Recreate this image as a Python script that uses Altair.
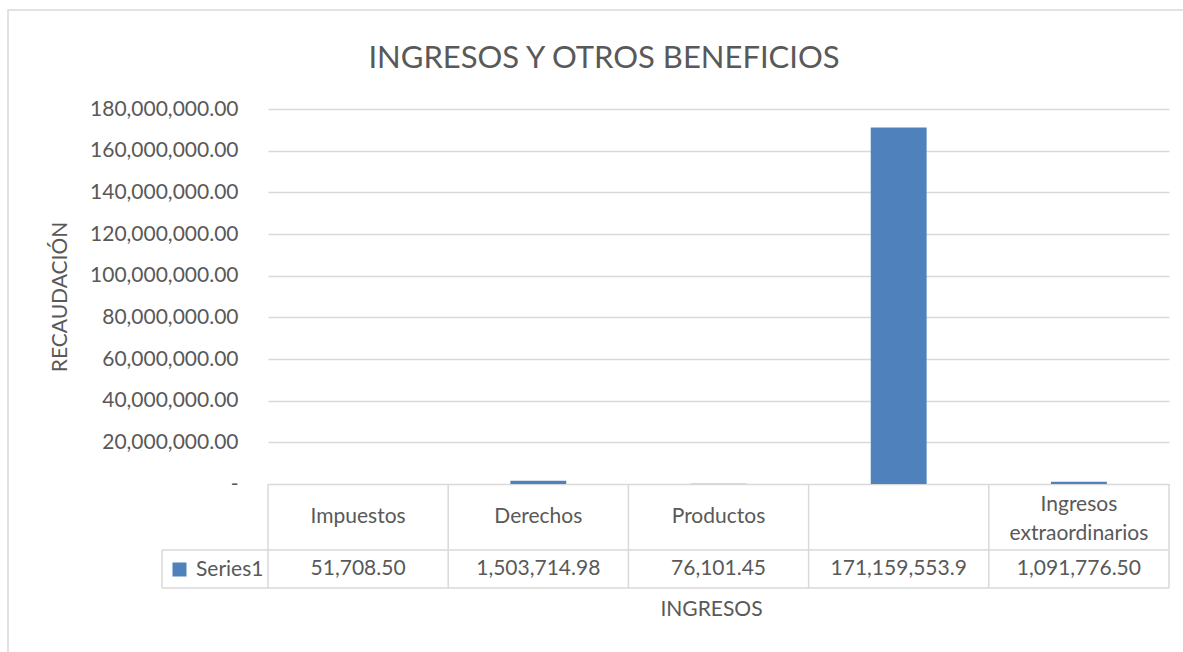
import altair as alt
import pandas as pd

# ---- data ----
categories = ["Impuestos", "Derechos", "Productos", " ", "Ingresos extraordinarios"]
header_labels = ["Impuestos", "Derechos", "Productos", "", "Ingresos\nextraordinarios"]
values = [51708.50, 1503714.98, 76101.45, 171159553.90, 1091776.50]
value_labels = ["51,708.50", "1,503,714.98", "76,101.45", "171,159,553.9", "1,091,776.50"]
series_name = "Series1"
chart_title = "INGRESOS Y OTROS BENEFICIOS"
y_ticks = [0, 20000000, 40000000, 60000000, 80000000, 100000000,
           120000000, 140000000, 160000000, 180000000]

FONT = "Lato"
TXT = "#595959"
GRID = "#D9D9D9"
BAR = "#4F81BD"
W, H = 901, 375
FS = 21

df = pd.DataFrame({
    "cat": categories,
    "header": header_labels,
    "value": values,
    "vlabel": value_labels,
    "series": [series_name] * len(categories),
})
df["multi"] = df["header"].str.contains("\n")

xscale = alt.Scale(domain=categories, paddingInner=0, paddingOuter=0)

bars = alt.Chart(df).mark_bar(width=alt.RelativeBandSize(0.31)).encode(
    x=alt.X("cat:N", sort=categories, scale=xscale,
            axis=alt.Axis(labels=False, ticks=False, domain=False, grid=False,
                          title="INGRESOS", titleFont=FONT, titleFontSize=FS,
                          titleFontWeight="normal", titleColor=TXT,
                          titlePadding=114, titleX=443)),
    y=alt.Y("value:Q", scale=alt.Scale(domain=[0, 180000000], nice=False),
            axis=alt.Axis(values=y_ticks, grid=True, gridColor=GRID, gridWidth=1.3,
                          domain=False, ticks=False, labelPadding=30,
                          labelFont=FONT, labelFontSize=FS, labelColor=TXT,
                          labelExpr="datum.value == 0 ? '-\u00a0\u00a0\u00a0' : format(datum.value, ',.2f')",
                          title="RECAUDACIÓN", titleFont=FONT, titleFontSize=21,
                          titleFontWeight="normal", titleColor=TXT,
                          titleAngle=-90, titleX=-208, titleY=H / 2,
                          titleAlign="center", titleBaseline="middle")),
    color=alt.Color("series:N", scale=alt.Scale(range=[BAR]),
                    legend=alt.Legend(title=None, orient="none", legendX=-99, legendY=450,
                                      symbolType="square", symbolSize=196,
                                      symbolStrokeWidth=0, labelFont=FONT,
                                      labelFontSize=FS, labelColor=TXT,
                                      padding=0, labelOffset=6)),
)

# table text
header_single = alt.Chart(df).transform_filter("!datum.multi").mark_text(
    fontSize=FS, font=FONT, color=TXT, baseline="middle", align="center").encode(
    x=alt.X("cat:N", sort=categories, scale=xscale, bandPosition=0.5),
    y=alt.value(408),
    text="header:N",
)
header_multi = alt.Chart(df).transform_filter("datum.multi").mark_text(
    fontSize=FS, font=FONT, color=TXT, lineBreak="\n", lineHeight=29,
    baseline="middle", align="center").encode(
    x=alt.X("cat:N", sort=categories, scale=xscale, bandPosition=0.5),
    y=alt.value(396),
    text="header:N",
)
value_txt = alt.Chart(df).mark_text(fontSize=FS, font=FONT, color=TXT,
                                    baseline="middle", align="center").encode(
    x=alt.X("cat:N", sort=categories, scale=xscale, bandPosition=0.5),
    y=alt.value(460),
    text="vlabel:N",
)

# table borders
vlines = alt.Chart(df).mark_rule(color=GRID, strokeWidth=1.5).encode(
    x=alt.X("cat:N", sort=categories, scale=xscale, bandPosition=0),
    y=alt.value(375), y2=alt.value(479),
)
vlast = alt.Chart(df.tail(1)).mark_rule(color=GRID, strokeWidth=1.5).encode(
    x=alt.X("cat:N", sort=categories, scale=xscale, bandPosition=1),
    y=alt.value(375), y2=alt.value(479),
)
one = pd.DataFrame({"t": [chart_title]})
hline1 = alt.Chart(one).mark_rule(color=GRID, strokeWidth=1.5).encode(
    x=alt.value(-106), x2=alt.value(W), y=alt.value(441))
hline2 = alt.Chart(one).mark_rule(color=GRID, strokeWidth=1.5).encode(
    x=alt.value(-106), x2=alt.value(W), y=alt.value(479))
vleft = alt.Chart(one).mark_rule(color=GRID, strokeWidth=1.5).encode(
    x=alt.value(-106), y=alt.value(441), y2=alt.value(479))

border = alt.Chart(one).mark_rect(fill=None, stroke=GRID, strokeWidth=1.5).encode(
    x=alt.value(-260), x2=alt.value(1000), y=alt.value(-99), y2=alt.value(700))

title_txt = alt.Chart(one).mark_text(fontSize=31, font=FONT, color=TXT,
                                     baseline="alphabetic", align="center").encode(
    x=alt.value(336), y=alt.value(-41), text="t:N")

chart = alt.layer(border, bars, vlines, vlast, hline1, hline2, vleft,
                  header_single, header_multi, value_txt, title_txt).resolve_scale(
    x="shared").properties(
    width=W, height=H,
    autosize=alt.AutoSizeParams(type="none"),
    padding={"left": 268, "top": 109, "right": 14, "bottom": 168},
    background="white",
).configure_view(stroke=None)

chart.save("out.html", embed_options={"renderer": "svg", "actions": False})
